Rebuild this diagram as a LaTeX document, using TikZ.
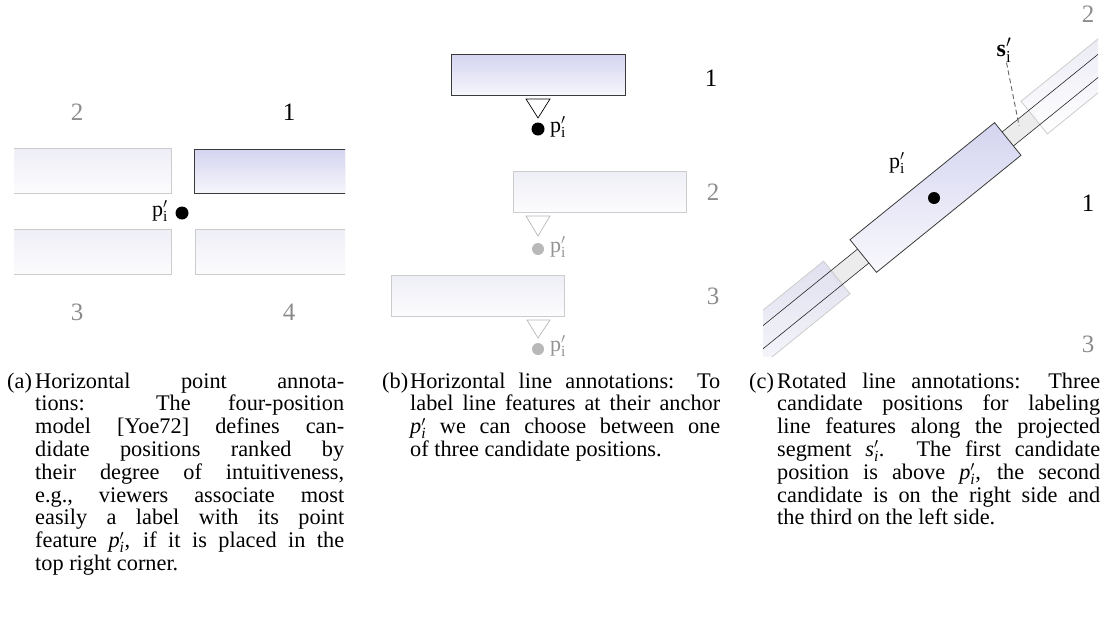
\documentclass[tikz,border=0pt]{standalone}
\usepackage{fontspec}
\setmainfont{Liberation Serif}
\usetikzlibrary{shadows,calc}

\definecolor{lavtop}{HTML}{D4D4F0}
\definecolor{lavbot}{HTML}{F6F6FC}
\definecolor{fadetop}{HTML}{EEEEF6}
\definecolor{fadebot}{HTML}{FCFCFE}
\definecolor{fadeedge}{HTML}{CCCCCC}
\definecolor{tiltfade}{HTML}{D8D8EC}
\definecolor{boxedge}{HTML}{3A3A3A}
\definecolor{rankgray}{HTML}{8C8C8C}
\definecolor{ghost}{HTML}{B8B8B8}
\definecolor{stripgray}{HTML}{ECECEC}

% caption block: total width, label, text (hanging label)
\newcommand{\panelcaption}[3]{%
  \begin{minipage}[t]{#1}%
    \fontsize{22.3}{22.8}\selectfont
    \tolerance=10000 \hbadness=10000
    \hangindent=28pt \hangafter=1
    \noindent\makebox[28pt][l]{#2}#3%
  \end{minipage}}

\newcommand{\pprime}{$\mathrm{p}^{\prime}_{\mathrm{i}}$}

\begin{document}
\begin{tikzpicture}[x=1pt,y=1pt,
  primarybox/.style={draw=boxedge, line width=0.8pt, top color=lavtop, bottom color=lavbot,
    inner sep=0pt, drop shadow={shadow xshift=1.2pt, shadow yshift=-1.2pt, opacity=0.35, fill=black!60}},
  fadedbox/.style={draw=fadeedge, line width=0.7pt, top color=fadetop, bottom color=fadebot, inner sep=0pt},
  tiltbox/.style={draw=fadeedge, line width=0.8pt, top color=tiltfade, bottom color=white,
    fill opacity=0.8, inner sep=0pt, rotate=39, minimum width=186pt, minimum height=42pt},
  anchordot/.style={circle, fill=black, inner sep=0pt, minimum size=13pt},
  ghostdot/.style={anchordot, fill=ghost},
  rank/.style={font=\fontsize{25}{25}\selectfont, text=rankgray, inner sep=0pt},
  toprank/.style={rank, text=black},
  plabel/.style={font=\fontsize{22}{22}\selectfont, inner sep=0pt},
  marker/.style={draw=black, line width=0.7pt, fill=white},
  ghostmarker/.style={marker, draw=ghost},
  captext/.style={anchor=base west, inner sep=0pt},
  stripline/.style={draw=black!85, line width=0.6pt},
  leader/.style={draw=black!60, line width=0.9pt, dash pattern=on 5pt off 3pt}
]
\useasboundingbox (0,0) rectangle (1107,-635);

%% ---------------- (a) horizontal point annotations
\begin{scope}
  \clip (14,0) rectangle (345,-300);
  \node[fadedbox, minimum width=185pt, minimum height=45pt] (a2) at (78.5,-170.5) {};
  \node[fadedbox, minimum width=185pt, minimum height=45pt] (a3) at (78.5,-251.5) {};
  \node[fadedbox, minimum width=185pt, minimum height=45pt] (a4) at (287.5,-251.5) {};
  \node[primarybox, minimum width=185pt, minimum height=44pt] (a1) at (286.5,-171) {};
\end{scope}
\node[anchordot] (apt) at (182,-213) {};
\node[plabel, anchor=east] (aptlabel) at (168,-211) {\pprime};
\node[toprank] (ar1) at (289,-112) {1};
\node[rank] (ar2) at (77,-112) {2};
\node[rank] (ar3) at (77,-312) {3};
\node[rank] (ar4) at (289,-312) {4};

%% ---------------- (b) horizontal line annotations
\node[primarybox, minimum width=174pt, minimum height=41pt] (b1) at (538,-74.5) {};
\draw[marker] (526,-99) -- (550,-99) -- (538,-118) -- cycle;
\node[anchordot] (bpt1) at (538,-129) {};
\node[plabel, anchor=west] (bl1) at (550,-127) {\pprime};
\node[toprank] (br1) at (711,-78) {1};

\node[fadedbox, minimum width=173pt, minimum height=41pt] (b2) at (599.5,-191.5) {};
\draw[ghostmarker] (526,-216) -- (550,-216) -- (538,-236) -- cycle;
\node[ghostdot, minimum size=12pt] (bpt2) at (538,-249) {};
\node[plabel, anchor=west, text=ghost!80!black] (bl2) at (550,-247) {\pprime};
\node[rank] (br2) at (713,-192) {2};

\node[fadedbox, minimum width=173pt, minimum height=41pt] (b3) at (477.5,-295.5) {};
\draw[ghostmarker] (527,-320) -- (550,-320) -- (538,-338) -- cycle;
\node[ghostdot, minimum size=12pt] (bpt3) at (538,-349) {};
\node[plabel, anchor=west, text=ghost!80!black] (bl3) at (550,-346) {\pprime};
\node[rank] (br3) at (713,-296) {3};

%% ---------------- (c) rotated line annotations
\begin{scope}
  \clip (763,0) rectangle (1098,-356);
  \begin{scope}[shift={(935.5,-197.5)}, rotate=39]
    \fill[stripgray] (-130,-9) rectangle (130,9);
  \end{scope}
  \node[tiltbox] (c2) at ($(935.5,-197.5)+(39:220)$) {};
  \node[tiltbox] (c3) at ($(935.5,-197.5)+(219:220)$) {};
  \begin{scope}[shift={(935.5,-197.5)}, rotate=39]
    \draw[stripline] (-320,9) -- (320,9);
    \draw[stripline] (-320,-9) -- (320,-9);
    \coordinate (segpt) at (110,3);
  \end{scope}
  \node[draw=boxedge, line width=0.8pt, top color=lavtop, bottom color=lavbot!70!white,
        inner sep=0pt, rotate=39, minimum width=186pt, minimum height=42pt] (c1) at (935.5,-197.5) {};
\end{scope}
\node[anchordot, minimum size=12pt] (cpt) at (934,-198) {};
\node[plabel] (cl) at (897,-163) {\pprime};
\node[plabel, font=\fontsize{24}{24}\selectfont] (sl) at (1004,-50) {$\mathbf{s}^{\prime}_{\mathrm{i}}$};
\draw[leader] (sl) -- (segpt);
\node[rank] (cr2) at (1088,-14) {2};
\node[toprank] (cr1) at (1088,-203) {1};
\node[rank] (cr3) at (1088,-344) {3};

%% ---------------- captions
\node[captext] (capa) at (7,-388) {\panelcaption{337pt}{(a)}{Horizontal point annota-\linebreak
tions: The four-position\linebreak
model [Yoe72] defines can-\linebreak
didate positions ranked by\linebreak
their degree of intuitiveness,\linebreak
e.g.,\ viewers associate most\linebreak
easily a label with its point\linebreak
feature $\mathit{p}'_{\mathit{i}}$, if it is placed in the\linebreak
top right corner.}};

\node[captext] (capb) at (382,-388) {\panelcaption{338pt}{(b)}{Horizontal line annotations: To\linebreak
label line features at their anchor\linebreak
$\mathit{p}'_{\mathit{i}}$ we can choose between one\linebreak
of three candidate positions.}};

\node[captext] (capc) at (749,-388) {\panelcaption{351pt}{(c)}{Rotated line annotations: Three\linebreak
candidate positions for labeling\linebreak
line features along the projected\linebreak
segment $\mathit{s}'_{\mathit{i}}$. The first candidate\linebreak
position is above $\mathit{p}'_{\mathit{i}}$, the second\linebreak
candidate is on the right side and\linebreak
the third on the left side.}};
\end{tikzpicture}
\end{document}
